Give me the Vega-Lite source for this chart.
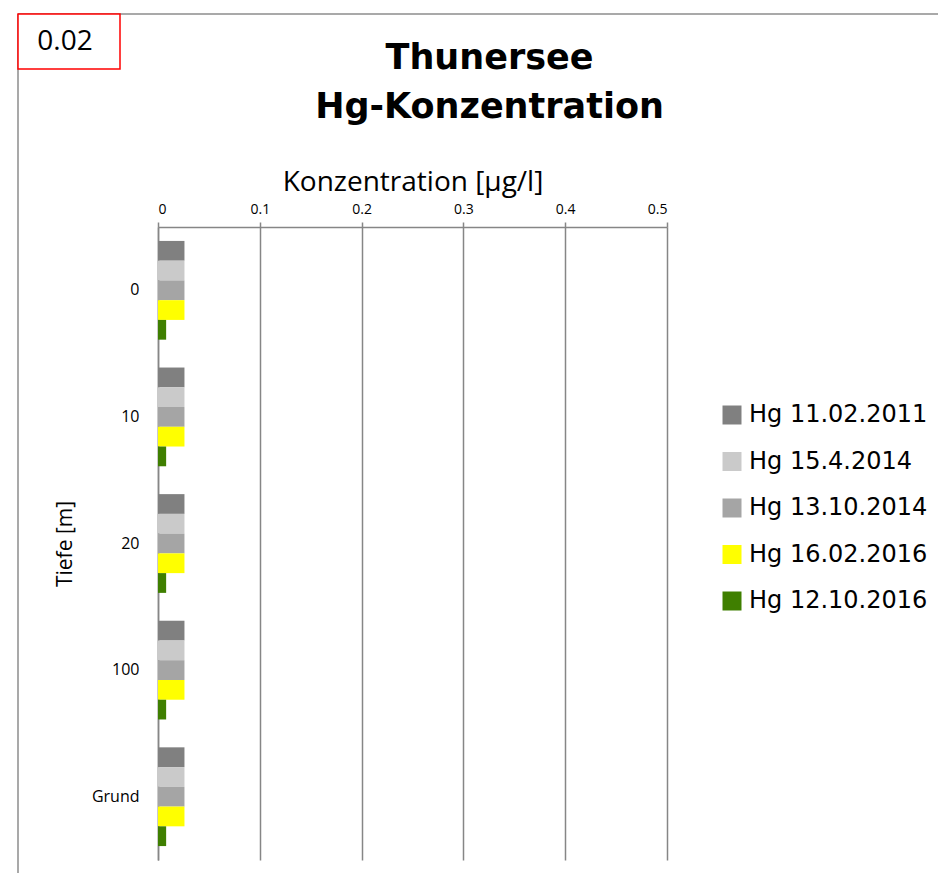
{
  "$schema": "https://vega.github.io/schema/vega-lite/v6.json",
  "width": 509,
  "height": 633,
  "autosize": {"type": "none"},
  "padding": {"left": 158, "top": 227, "right": 271, "bottom": 13},
  "background": "white",
  "config": {
    "font": "Open Sans",
    "view": {"stroke": null}
  },
  "title": {
    "text": ["Thunersee", "Hg-Konzentration"],
    "fontSize": 35,
    "fontWeight": "bold",
    "font": "DejaVu Sans",
    "lineHeight": 49,
    "anchor": "middle",
    "dx": 77,
    "offset": -112,
    "color": "black"
  },
  "layer": [
    {
      "data": {
        "values": [
          {"depth": "0", "series": "Hg 11.02.2011", "value": 0.026},
          {"depth": "0", "series": "Hg 15.4.2014", "value": 0.026},
          {"depth": "0", "series": "Hg 13.10.2014", "value": 0.026},
          {"depth": "0", "series": "Hg 16.02.2016", "value": 0.026},
          {"depth": "0", "series": "Hg 12.10.2016", "value": 0.008},
          {"depth": "10", "series": "Hg 11.02.2011", "value": 0.026},
          {"depth": "10", "series": "Hg 15.4.2014", "value": 0.026},
          {"depth": "10", "series": "Hg 13.10.2014", "value": 0.026},
          {"depth": "10", "series": "Hg 16.02.2016", "value": 0.026},
          {"depth": "10", "series": "Hg 12.10.2016", "value": 0.008},
          {"depth": "20", "series": "Hg 11.02.2011", "value": 0.026},
          {"depth": "20", "series": "Hg 15.4.2014", "value": 0.026},
          {"depth": "20", "series": "Hg 13.10.2014", "value": 0.026},
          {"depth": "20", "series": "Hg 16.02.2016", "value": 0.026},
          {"depth": "20", "series": "Hg 12.10.2016", "value": 0.008},
          {"depth": "100", "series": "Hg 11.02.2011", "value": 0.026},
          {"depth": "100", "series": "Hg 15.4.2014", "value": 0.026},
          {"depth": "100", "series": "Hg 13.10.2014", "value": 0.026},
          {"depth": "100", "series": "Hg 16.02.2016", "value": 0.026},
          {"depth": "100", "series": "Hg 12.10.2016", "value": 0.008},
          {"depth": "Grund", "series": "Hg 11.02.2011", "value": 0.026},
          {"depth": "Grund", "series": "Hg 15.4.2014", "value": 0.026},
          {"depth": "Grund", "series": "Hg 13.10.2014", "value": 0.026},
          {"depth": "Grund", "series": "Hg 16.02.2016", "value": 0.026},
          {"depth": "Grund", "series": "Hg 12.10.2016", "value": 0.008}
        ]
      },
      "mark": {"type": "bar"},
      "encoding": {
        "x": {
          "field": "value",
          "type": "quantitative",
          "scale": {"domain": [0, 0.5], "nice": false, "zero": true},
          "axis": {
            "orient": "top",
            "title": "Konzentration [μg/l]",
            "titleFontSize": 28,
            "titleFontWeight": "normal",
            "titleColor": "black",
            "titleFont": "Open Sans",
            "titlePadding": 6,
            "values": [0, 0.1, 0.2, 0.3, 0.4, 0.5],
            "format": "~f",
            "labelFontSize": 14,
            "labelColor": "black",
            "labelPadding": 6,
            "tickSize": 5,
            "tickColor": "#868686",
            "tickWidth": 1.5,
            "domainColor": "#868686",
            "domainWidth": 1.5,
            "grid": true,
            "gridColor": "#868686",
            "gridWidth": 1.5
          }
        },
        "y": {
          "field": "depth",
          "type": "nominal",
          "sort": ["0", "10", "20", "100", "Grund"],
          "scale": {"paddingInner": 0.22, "paddingOuter": 0.11},
          "axis": {
            "title": "Tiefe [m]",
            "titleFontSize": 21,
            "titleFontWeight": "normal",
            "titleColor": "black",
            "titlePadding": 16,
            "labelFontSize": 16,
            "labelColor": "black",
            "labelPadding": 19,
            "ticks": false,
            "domainColor": "#868686",
            "domainWidth": 1.5
          }
        },
        "yOffset": {
          "field": "series",
          "type": "nominal",
          "sort": ["Hg 11.02.2011", "Hg 15.4.2014", "Hg 13.10.2014", "Hg 16.02.2016", "Hg 12.10.2016"],
          "scale": {"paddingInner": 0, "paddingOuter": 0}
        },
        "color": {
          "field": "series",
          "type": "nominal",
          "sort": ["Hg 11.02.2011", "Hg 15.4.2014", "Hg 13.10.2014", "Hg 16.02.2016", "Hg 12.10.2016"],
          "scale": {
            "domain": ["Hg 11.02.2011", "Hg 15.4.2014", "Hg 13.10.2014", "Hg 16.02.2016", "Hg 12.10.2016"],
            "range": ["#808080", "#CACACA", "#A5A5A5", "#FFFF00", "#3F7F00"]
          },
          "legend": {
            "title": null,
            "orient": "none",
            "legendX": 562,
            "legendY": 176,
            "symbolType": "square",
            "symbolSize": 361,
            "symbolStrokeWidth": 0,
            "labelFontSize": 24,
            "labelFont": "DejaVu Sans",
            "labelColor": "black",
            "labelOffset": 5,
            "rowPadding": 22.5,
            "labelLimit": 400
          }
        }
      }
    },
    {
      "data": {"values": [{"label": "0.02"}]},
      "layer": [
        {
          "mark": {"type": "rule", "color": "#8c8c8c", "strokeWidth": 1.5},
          "encoding": {
            "x": {"value": -140},
            "x2": {"value": 780},
            "y": {"value": -213},
            "y2": {"value": -213}
          }
        },
        {
          "mark": {"type": "rule", "color": "#8c8c8c", "strokeWidth": 1.5},
          "encoding": {
            "x": {"value": -140},
            "x2": {"value": -140},
            "y": {"value": -213},
            "y2": {"value": 646}
          }
        },
        {
          "mark": {"type": "rect", "fill": "white", "stroke": "#FF0000", "strokeWidth": 1.5},
          "encoding": {
            "x": {"value": -140},
            "x2": {"value": -38},
            "y": {"value": -213},
            "y2": {"value": -158}
          }
        },
        {
          "mark": {"type": "text", "fontSize": 28, "font": "Open Sans", "color": "black", "align": "center", "baseline": "middle"},
          "encoding": {
            "text": {"field": "label"},
            "x": {"value": -93},
            "y": {"value": -185}
          }
        }
      ]
    }
  ]
}
